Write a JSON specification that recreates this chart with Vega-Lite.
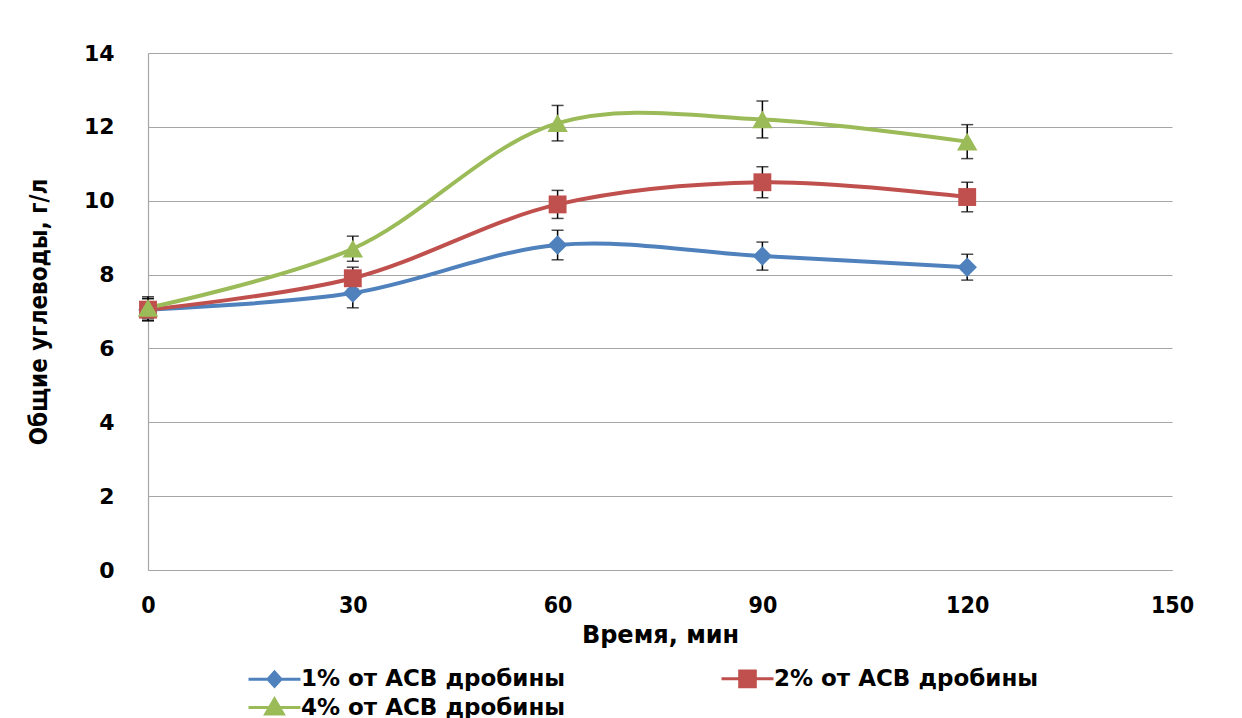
{
  "$schema": "https://vega.github.io/schema/vega-lite/v6.json",
  "autosize": {"type": "none"},
  "padding": {"left": 148, "top": 53, "right": 70, "bottom": 148},
  "width": 1024,
  "height": 517,
  "background": "white",
  "config": {
    "view": {"stroke": null},
    "axis": {"gridColor": "#a6a6a6", "gridWidth": 1.2, "domainColor": "#a6a6a6", "domainWidth": 1.2, "ticks": false, "labelColor": "black", "titleColor": "black"}
  },
  "data": {
    "values": [
      {"t": 0, "s": "1% от АСВ дробины", "v": 7.05, "lo": 6.75, "hi": 7.35},
      {"t": 30, "s": "1% от АСВ дробины", "v": 7.5, "lo": 7.1, "hi": 7.9},
      {"t": 60, "s": "1% от АСВ дробины", "v": 8.8, "lo": 8.4, "hi": 9.2},
      {"t": 90, "s": "1% от АСВ дробины", "v": 8.5, "lo": 8.12, "hi": 8.88},
      {"t": 120, "s": "1% от АСВ дробины", "v": 8.2, "lo": 7.85, "hi": 8.55},
      {"t": 0, "s": "2% от АСВ дробины", "v": 7.05, "lo": 6.75, "hi": 7.35},
      {"t": 30, "s": "2% от АСВ дробины", "v": 7.9, "lo": 7.6, "hi": 8.2},
      {"t": 60, "s": "2% от АСВ дробины", "v": 9.9, "lo": 9.52, "hi": 10.28},
      {"t": 90, "s": "2% от АСВ дробины", "v": 10.5, "lo": 10.08, "hi": 10.92},
      {"t": 120, "s": "2% от АСВ дробины", "v": 10.1, "lo": 9.7, "hi": 10.5},
      {"t": 0, "s": "4% от АСВ дробины", "v": 7.1, "lo": 6.8, "hi": 7.4},
      {"t": 30, "s": "4% от АСВ дробины", "v": 8.7, "lo": 8.36, "hi": 9.04},
      {"t": 60, "s": "4% от АСВ дробины", "v": 12.1, "lo": 11.62, "hi": 12.58},
      {"t": 90, "s": "4% от АСВ дробины", "v": 12.2, "lo": 11.7, "hi": 12.7},
      {"t": 120, "s": "4% от АСВ дробины", "v": 11.6, "lo": 11.14, "hi": 12.06}
    ]
  },
  "encoding": {
    "x": {
      "field": "t", "type": "quantitative",
      "scale": {"domain": [0, 150], "nice": false, "zero": false},
      "axis": {"values": [0, 30, 60, 90, 120, 150], "grid": false, "title": "Время, мин", "labelFont": "DejaVu Sans Condensed", "labelFontWeight": "bold", "labelFontSize": 23, "labelPadding": 24, "titleFont": "DejaVu Sans", "titleFontWeight": "bold", "titleFontSize": 24, "titlePadding": 6, "labelFlush": false}
    },
    "y": {
      "field": "v", "type": "quantitative",
      "scale": {"domain": [0, 14], "nice": false},
      "axis": {"values": [0, 2, 4, 6, 8, 10, 12, 14], "title": "Общие углеводы, г/л", "labelFont": "DejaVu Sans", "labelFontWeight": "bold", "labelFontSize": 22, "labelPadding": 34, "titleFont": "DejaVu Sans Condensed", "titleFontWeight": "bold", "titleFontSize": 24, "titlePadding": 32}
    },
    "color": {"field": "s", "type": "nominal", "scale": {"domain": ["1% от АСВ дробины", "2% от АСВ дробины", "4% от АСВ дробины"], "range": ["#4f81bd", "#c0504d", "#9bbb59"]}, "legend": {
      "orient": "none", "legendX": 115, "legendY": 614, "direction": "horizontal", "columns": 2, "columnPadding": 149, "rowPadding": 0, "title": null,
      "labelFont": "DejaVu Sans", "labelFontWeight": "bold", "labelFontSize": 23, "labelColor": "black", "labelOffset": 15, "labelLimit": 500, "symbolSize": 169, "symbolStrokeWidth": 3, "symbolOpacity": 1,
      "encode": {"symbols": {"update": {
        "shape": {"signal": "datum.index === 0 ? 'M-4,0H4M0,-1.1L1,0L0,1.1L-1,0Z' : datum.index === 1 ? 'M-4,0H4M-1.2,-1.2H1.2V1.2H-1.2Z' : 'M-4,0H4M0,-1.3L1.35,1H-1.35Z'"},
        "fill": {"scale": "color", "field": "value"},
        "stroke": {"scale": "color", "field": "value"},
        "size": {"value": 169},
        "strokeWidth": {"value": 3}
      }}}
    }}
  },
  "layer": [
    {
      "mark": {"type": "line", "interpolate": "catmull-rom", "strokeWidth": 4}
    },
    {
      "mark": {"type": "rule", "color": "black", "strokeWidth": 1.5},
      "encoding": {"y": {"field": "lo", "type": "quantitative"}, "y2": {"field": "hi"}, "color": {"value": "black"}}
    },
    {
      "mark": {"type": "tick", "color": "black", "orient": "horizontal", "size": 12, "thickness": 1.5},
      "encoding": {"y": {"field": "lo", "type": "quantitative"}, "color": {"value": "black"}}
    },
    {
      "mark": {"type": "tick", "color": "black", "orient": "horizontal", "size": 12, "thickness": 1.5},
      "encoding": {"y": {"field": "hi", "type": "quantitative"}, "color": {"value": "black"}}
    },
    {
      "transform": [{"filter": {"field": "s", "equal": "1% от АСВ дробины"}}],
      "mark": {"type": "point", "filled": true, "opacity": 1, "shape": "diamond", "size": 380}
    },
    {
      "transform": [{"filter": {"field": "s", "equal": "2% от АСВ дробины"}}],
      "mark": {"type": "point", "filled": true, "opacity": 1, "shape": "square", "size": 320}
    },
    {
      "transform": [{"filter": {"field": "s", "equal": "4% от АСВ дробины"}}],
      "mark": {"type": "point", "filled": true, "opacity": 1, "shape": "triangle-up", "size": 420}
    }
  ]
}
